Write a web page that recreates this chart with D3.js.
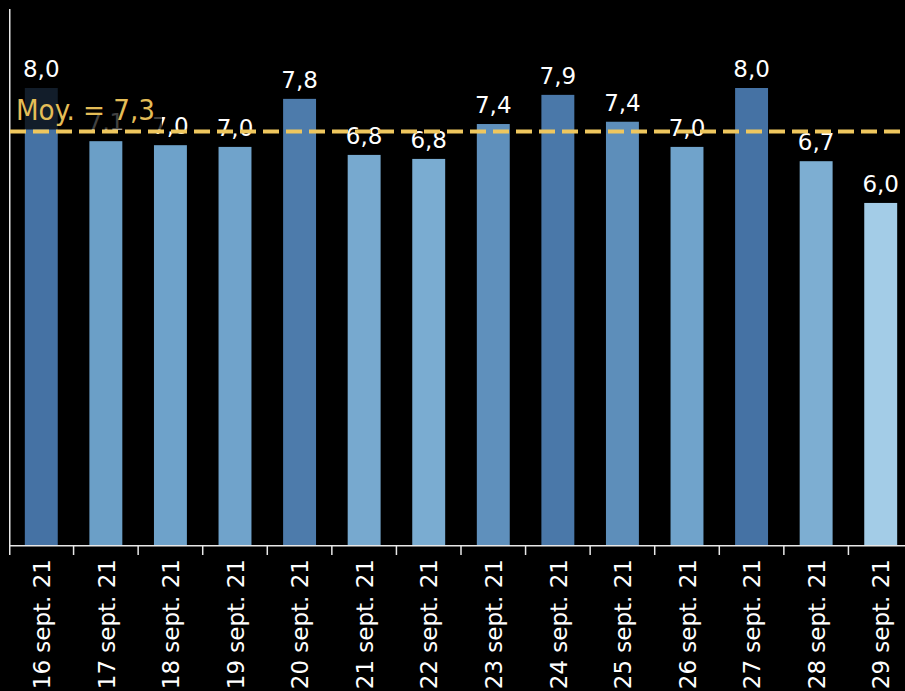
<!DOCTYPE html>
<html>
<head>
<meta charset="utf-8">
<script src="https://cdn.jsdelivr.net/npm/d3@7"></script>
<style>
html,body{margin:0;padding:0;background:#000;}
svg{display:block;}
text{font-family:"DejaVu Sans",sans-serif;}
</style>
</head>
<body>
<script>
const categories = ["16 sept. 21","17 sept. 21","18 sept. 21","19 sept. 21","20 sept. 21","21 sept. 21","22 sept. 21","23 sept. 21","24 sept. 21","25 sept. 21","26 sept. 21","27 sept. 21","28 sept. 21","29 sept. 21"];
const values = [8.0, 7.07, 7.0, 6.97, 7.81, 6.83, 6.76, 7.37, 7.88, 7.41, 6.97, 8.0, 6.72, 5.99];
const averageValue = 7.24;
const averageLabel = "Moy. = 7,3";

const W = 905, H = 691;
const svg = d3.select("body").append("svg").attr("width", W).attr("height", H);
svg.append("rect").attr("width", W).attr("height", H).attr("fill", "#000");

const x = d3.scaleBand().domain(categories).range([9, 913]).paddingInner(0.49).paddingOuter(0.245);
const y = d3.scaleLinear().domain([0, 8]).range([545.5, 88]);
const color = d3.scaleLinear().domain([6.0, 7.0, 8.0]).range(["#a2cce7", "#6ea2ca", "#4572a4"]);
const fmt = v => d3.format(".1f")(v).replace(".", ",");

// bars
svg.append("g").selectAll("rect").data(categories).join("rect")
  .attr("x", d => x(d))
  .attr("width", x.bandwidth())
  .attr("y", (d, i) => y(values[i]))
  .attr("height", (d, i) => y(0) - y(values[i]))
  .attr("fill", (d, i) => color(values[i]));

// value labels
svg.append("g").selectAll("text").data(categories).join("text")
  .attr("x", d => x(d) + x.bandwidth() / 2)
  .attr("y", (d, i) => y(values[i]) - 11)
  .attr("text-anchor", "middle")
  .attr("fill", "#fff")
  .attr("font-size", 23)
  .text((d, i) => fmt(values[i]));

// axes
svg.append("line").attr("x1", 9.75).attr("x2", 9.75).attr("y1", 9).attr("y2", 546)
  .attr("stroke", "#e8e8e8").attr("stroke-width", 1.5);
svg.append("line").attr("x1", 9).attr("x2", W).attr("y1", 545.75).attr("y2", 545.75)
  .attr("stroke", "#e8e8e8").attr("stroke-width", 1.5);
const boundaries = categories.map(d => x(d) - (x.step() - x.bandwidth()) / 2);
svg.append("g").selectAll("line").data(boundaries).join("line")
  .attr("x1", d => Math.max(d, 9.75)).attr("x2", d => Math.max(d, 9.75))
  .attr("y1", 545).attr("y2", 555)
  .attr("stroke", "#e8e8e8").attr("stroke-width", 1.5);

// x labels
svg.append("g").selectAll("text").data(categories).join("text")
  .attr("transform", d => `translate(${x(d) + x.bandwidth() / 2},559) rotate(-90)`)
  .attr("text-anchor", "end")
  .attr("dy", "0.38em")
  .attr("fill", "#fff")
  .attr("font-size", 23)
  .text(d => d);

// average reference line
svg.append("rect").attr("x", 12).attr("y", 82).attr("width", 150).attr("height", 47.5)
  .attr("fill", "#000").attr("fill-opacity", 0.74);
svg.append("line").attr("x1", 10).attr("x2", W)
  .attr("y1", y(averageValue)).attr("y2", y(averageValue))
  .attr("stroke", "#efc75e").attr("stroke-width", 4)
  .attr("stroke-dasharray", "16,7");
svg.append("text").attr("x", 16).attr("y", 120)
  .attr("fill", "#e4bd57").attr("font-size", 28)
  .attr("textLength", 139).attr("lengthAdjust", "spacingAndGlyphs")
  .text(averageLabel);
</script>
</body>
</html>
